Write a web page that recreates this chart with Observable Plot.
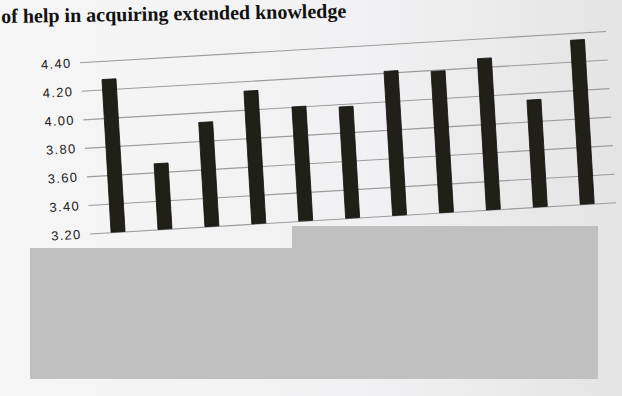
<!DOCTYPE html>
<html>
<head>
<meta charset="utf-8">
<script src="https://cdn.jsdelivr.net/npm/d3@7"></script>
<script src="https://cdn.jsdelivr.net/npm/@observablehq/plot@0.6"></script>
<style>
  html, body { margin: 0; padding: 0; }
  body {
    width: 622px; height: 396px; overflow: hidden; position: relative;
    background: linear-gradient(to right, #f6f6f6 0%, #f1f1f3 60%, #e4e4e4 100%);
  }
  #title {
    position: absolute; left: 1px; top: 5px; white-space: nowrap;
    font: bold 20px "Liberation Serif", "DejaVu Serif", serif; color: #111;
    line-height: 23px;
    transform: rotate(-0.9deg); transform-origin: 0 0;
  }
  #chart {
    position: absolute; left: 0; top: 0;
    transform: rotate(-3.4deg); transform-origin: 340px 140px;
  }
  .box { position: absolute; background: #c0c0c0; }
</style>
</head>
<body>
<div id="title">of help in acquiring extended knowledge</div>
<div id="chart"></div>
<div class="box" style="left:30px; top:248px; width:262px; height:131px;"></div>
<div class="box" style="left:292px; top:226px; width:306px; height:153px;"></div>
<script>
// Items (their labels are hidden in the reference)
const items = ["1", "2", "3", "4", "5", "6", "7", "8", "9", "10", "11"];
// Mean scores
const scores = [4.27, 3.66, 3.93, 4.13, 4.00, 3.98, 4.21, 4.19, 4.26, 3.95, 4.35];
// Y-axis tick values
const yTicks = [3.2, 3.4, 3.6, 3.8, 4.0, 4.2, 4.4];

const data = items.map((item, i) => ({item, score: scores[i]}));

const chart = Plot.plot({
  width: 622,
  height: 250,
  marginTop: 47,
  marginBottom: 31.5,
  marginLeft: 85,
  marginRight: 10,
  style: {background: "transparent", color: "#222"},
  x: {domain: items, paddingInner: 0.7, paddingOuter: 0.4, axis: null},
  y: {domain: [3.2, 4.4], axis: null},
  marks: [
    Plot.ruleY(yTicks, {stroke: "#9c9c9c", strokeWidth: 1.1}),
    Plot.text(yTicks, {
      y: d => d,
      frameAnchor: "left",
      dx: -9,
      textAnchor: "end",
      text: d => d3.format(".2f")(d),
      fontSize: 13,
      fontFamily: "Liberation Sans, Arial, sans-serif",
      fill: "#222"
    }),
    Plot.barY(data, {
      x: "item",
      y1: 3.2,
      y2: "score",
      fill: "#202018",
      stroke: "#111",
      strokeWidth: 0.8
    })
  ]
});
chart.style.letterSpacing = "1.3px";
document.getElementById("chart").append(chart);
</script>
</body>
</html>
